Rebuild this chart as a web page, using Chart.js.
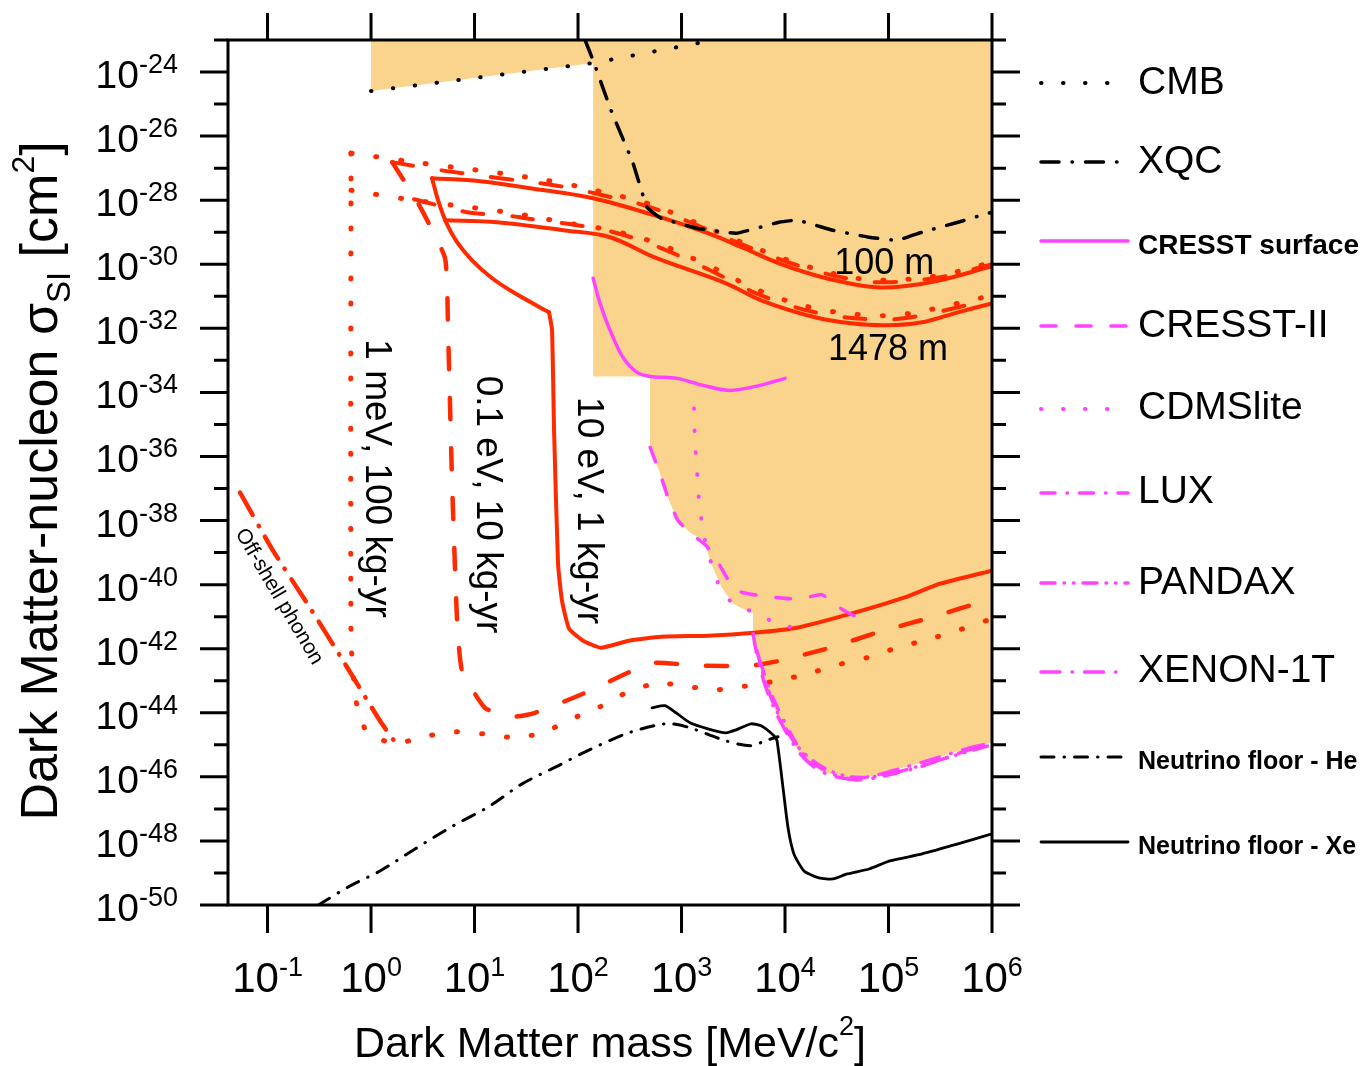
<!DOCTYPE html>
<html>
<head>
<meta charset="utf-8">
<script src="https://cdn.jsdelivr.net/npm/chart.js@4.4.0/dist/chart.umd.min.js"></script>
<style>html,body{margin:0;padding:0;background:#fff;}canvas{display:block;}</style>
</head>
<body>
<canvas id="c" width="1365" height="1066" style="width:1365px;height:1066px"></canvas>
<script>
// ---------- axis ranges & ticks ----------
const massRange = [0.0415, 1e6];          // MeV/c^2
const sigmaRange = [1e-50, 1e-23];        // cm^2
const xTicks = [1e-1, 1e0, 1e1, 1e2, 1e3, 1e4, 1e5, 1e6];
const xTickLabels = ['-1', '0', '1', '2', '3', '4', '5', '6'];
const yMajorTicks = [1e-24, 1e-26, 1e-28, 1e-30, 1e-32, 1e-34, 1e-36, 1e-38, 1e-40, 1e-42, 1e-44, 1e-46, 1e-48, 1e-50];
const yTickLabels = ['-24', '-26', '-28', '-30', '-32', '-34', '-36', '-38', '-40', '-42', '-44', '-46', '-48', '-50'];
const yMinorTicks = [1e-23, 1e-25, 1e-27, 1e-29, 1e-31, 1e-33, 1e-35, 1e-37, 1e-39, 1e-41, 1e-43, 1e-45, 1e-47, 1e-49];

// ---------- data: [mass MeV/c^2, cross section cm^2] ----------
const excludedRegion = [[1,1e-23],[1,2.55e-25],[140,1.91e-24],[140,3.16e-34],[497,3.16e-34],[497,1.91e-36],
  [620,2.94e-37],[757,4.22e-38],[925,1e-38],[1208,4.22e-39],[1649,2.37e-39],[1928,4.53e-40],[2460,8.05e-41],
  [3148,2.55e-41],[4690,1.33e-41],[4910,1.33e-41],[4910,2.94e-42],[5250,8.66e-43],[5730,2.55e-43],[6700,4.87e-44],
  [8950,5.62e-45],[1.4e4,5.24e-46],[2.18e4,1.54e-46],[3.97e4,8.66e-47],[7.08e4,1.07e-46],[1.38e5,1.91e-46],
  [2.94e5,3.93e-46],[6.12e5,8.05e-46],[1e6,1.15e-45],[1e6,1e-23]];

const cmb = [[1,2.55e-25],[140,1.91e-24],[2100,1e-23]];
const xqc = [[117,1e-23],[143,1.91e-24],[208,6.5e-26],[340,1.43e-27],[464,6.04e-29],[634,2.74e-29],[1413,1.33e-29],
  [3365,9.3e-30],[8750,2.05e-29],[1.31e4,2.37e-29],[2.91e4,1.15e-29],[6.49e4,6.98e-30],[1.21e5,5.62e-30],
  [2.11e5,1e-29],[4.69e5,2.05e-29],[1e6,4.22e-29]];

// 10 eV threshold, 1 kg-yr
const solid100m = [[3.88,4.87e-28],[11.3,3.93e-28],[34.4,2.37e-28],[140,1.15e-28],[542,3.4e-29],[1800,9.3e-30],
  [4020,3.16e-30],[8750,1.07e-30],[1.95e4,4.53e-31],[3.72e4,2.74e-31],[7.57e4,1.91e-31],[1.41e5,2.05e-31],
  [3.15e5,3.16e-31],[1e6,8.66e-31]];
const solid1478m = [[5.19,2.37e-29],[16.5,2.05e-29],[71.6,1.15e-29],[204,6.98e-30],[542,1.66e-30],[2690,2.55e-31],
  [5870,7.5e-32],[1.95e4,2.21e-32],[4.34e4,1.43e-32],[9.46e4,1.24e-32],[2.11e5,1.54e-32],[4.69e5,3.16e-32],[1e6,6.04e-32]];
const solidFloorUpper = [[3.88,4.87e-28],[4.44,1e-28],[5.31,2.05e-29],[6.78,4.87e-30],[9.46,1.33e-30],
  [14.8,3.65e-31],[24.6,1.24e-31],[52.5,3.16e-32]];
const solidFloor = [[52.5,3.16e-32],
  [56.1,8.66e-33],[58.7,6.5e-36],[64.1,4.53e-40],[70,3.16e-41],[81.9,4.22e-42],[112,1.78e-42],[167,1.07e-42],
  [311,1.78e-42],[634,2.37e-42],[1800,2.55e-42],[5010,3.16e-42],[1.31e4,4.53e-42],[4.34e4,1.24e-41],
  [1.41e5,3.93e-41],[3.15e5,1.07e-40],[1e6,2.74e-40]];

// 0.1 eV threshold, 10 kg-yr
const dashed100m = [[1.6,1.54e-27],[4.64,8.66e-28],[17.6,4.87e-28],[67,2.74e-28],[174,1.43e-28],[464,6.5e-29],
  [1208,2.05e-29],[4020,3.93e-30],[1.31e4,9.3e-31],[4.34e4,3.4e-31],[9.46e4,2.74e-31],[3.15e5,3.93e-31],[1e6,1e-30]];
const dashed1478m = [[2.6,1.07e-28],[8.47,4.22e-29],[18.8,3.4e-29],[43,2.37e-29],[97.7,1.66e-29],[204,1.07e-29],
  [542,3.93e-30],[1800,6.98e-31],[5870,1.07e-31],[1.95e4,3.16e-32],[6.49e4,1.91e-32],[1.41e5,2.05e-32],
  [4.69e5,4.53e-32],[1e6,8.66e-32]];
const dashedFloor = [[1.6,1.54e-27],[2.85,8.05e-29],[5.19,1.54e-30],[5.55,8.66e-33],[6.06,1.78e-37],[6.78,7.5e-42],
  [7.57,2.05e-43],[12.6,1.43e-44],[23,7.5e-45],[38.5,1e-44],[112,3.93e-44],[304,1.78e-43],[555,3.65e-43],
  [1510,2.94e-43],[4590,2.94e-43],[8950,4.22e-43],[2.72e4,1.07e-42],[8.28e4,3.4e-42],[2.52e5,9.3e-42],[1e6,3.65e-41]];

// 1 meV threshold, 100 kg-yr
const dotted100m = [[0.641,2.94e-27],[1.63,1.91e-27],[4.34,1.24e-27],[17.6,6.98e-28],[70,3.4e-28],[174,1.78e-28],
  [464,8.05e-29],[1208,2.37e-29],[4020,4.53e-30],[1.31e4,1.07e-30],[4.34e4,3.93e-31],[9.46e4,3.16e-31],
  [3.15e5,4.53e-31],[1e6,1.15e-30]];
const dotted1478m = [[0.641,2.05e-28],[1.63,1.24e-28],[4.34,8.05e-29],[10.6,5.62e-29],[27.5,3.65e-29],[71.6,2.05e-29],
  [204,1.15e-29],[542,4.87e-30],[1800,9.3e-31],[5870,1.43e-31],[1.95e4,4.22e-32],[6.49e4,2.55e-32],[1.41e5,2.74e-32],
  [4.69e5,6.04e-32],[1e6,1.07e-31]];
const dottedFloor = [[0.641,2.94e-27],[0.641,1.78e-42],[0.716,2.37e-44],[0.915,2.37e-45],[1.71,1.07e-45],[3.18,1.78e-45],
  [6.2,2.55e-45],[12.1,2.21e-45],[24.6,1.66e-45],[45.9,2.37e-45],[87.5,6.5e-45],[163,1.54e-44],[304,4.53e-44],
  [593,8.66e-44],[1156,6.5e-44],[2254,5.24e-44],[4390,6.98e-44],[8550,1e-43],[1.67e4,1.66e-43],[3.25e4,3.16e-43],
  [6.2e4,5.24e-43],[1.21e5,1.07e-42],[2.36e5,1.91e-42],[4.59e5,3.65e-42],[1e6,8.66e-42]];

const offShellPhonon = [[0.0542,7.5e-38],[0.113,1.15e-39],[0.257,1.91e-41],[0.537,4.22e-43],[1.22,5.62e-45],[1.78,1e-45]];

const cresstSurface = [[140,3.65e-31],[163,6.04e-32],[204,8.66e-33],[272,1.24e-33],[372,4.22e-34],[497,3.16e-34],
  [906,2.74e-34],[1614,1.66e-34],[2943,1.15e-34],[5730,1.66e-34],[1e4,2.74e-34]];
const cresstII = [[497,1.91e-36],[620,2.94e-37],[757,4.22e-38],[925,1e-38],[1208,4.22e-39],[1726,1.66e-39],
  [2203,5.62e-40],[2943,1.15e-40],[3673,6.04e-41],[5730,4.53e-41],[1.12e4,3.65e-41],[1.6e4,3.93e-41],
  [2.28e4,4.87e-41],[3.11e4,2.21e-41],[4.65e4,1.07e-41],[6.93e4,6.98e-42]];
const cdmslite = [[1321,3.16e-35],[1350,3.16e-36],[1412,3.65e-37],[1476,4.22e-38],[1578,8.05e-39],[1726,1.66e-39],
  [1972,3.93e-40],[2355,8.05e-41],[3148,2.55e-41],[5130,1.33e-41],[8000,6.5e-42],[1.31e4,4.22e-42]];
const lux = [[5730,4.22e-43],[7160,4.87e-44],[1e4,4.87e-45],[1.56e4,4.53e-46],[2.72e4,1.33e-46],[4.75e4,8.05e-47],
  [8.28e4,1e-46],[2.01e5,2.05e-46],[4.91e5,5.62e-46],[1e6,1.24e-45]];
const pandax = [[5360,8.66e-43],[6410,1e-43],[8550,9.3e-45],[1.31e4,9.3e-46],[2.28e4,2.05e-46],[4.25e4,1e-46],
  [8.28e4,1.07e-46],[2.01e5,2.21e-46],[4.91e5,5.24e-46],[1e6,1e-45]];
const xenon1t = [[4910,2.94e-42],[5250,8.66e-43],[5730,2.55e-43],[6700,4.87e-44],[8950,5.62e-45],[1.4e4,5.24e-46],
  [2.18e4,1.54e-46],[3.97e4,8.66e-47],[7.08e4,1.07e-46],[1.38e5,1.91e-46],[2.94e5,3.93e-46],[6.12e5,8.05e-46],[1e6,1.15e-45]];

const nuFloorHe = [[0.31,1e-50],[0.627,3.93e-50],[1.22,1.15e-49],[2.66,5.62e-49],[6.2,2.94e-48],[14.1,1.24e-47],
  [28.8,6.04e-47],[64.1,2.21e-46],[112,5.62e-46],[291,2.21e-45],[593,4.22e-45],[809,4.53e-45],[1208,3.4e-45],
  [2690,1.33e-45],[4690,9.3e-46],[6410,1.33e-45],[8550,1.78e-45]];
const nuFloorXe = [[519,1.43e-44],[693,1.66e-44],[885,1e-44],[1208,4.87e-45],[1800,3.16e-45],[2690,2.37e-45],
  [3365,2.94e-45],[4690,4.53e-45],[5870,3.93e-45],[7830,1.91e-45],[8370,1.33e-45],[9570,4.53e-47],[1.07e4,2.55e-48],
  [1.22e4,3.93e-49],[1.53e4,1.15e-49],[2.13e4,6.98e-50],[2.91e4,6.5e-50],[3.97e4,9.3e-50],[6.49e4,1.33e-49],
  [1.03e5,2.37e-49],[2.11e5,3.93e-49],[4.69e5,8.05e-49],[1e6,1.66e-48]];

// text annotations placed in data coordinates
const annotations = [
  {text: '100 m', x: 9.1e4, y: 1.0e-30, size: 36, rot: 0},
  {text: '1478 m', x: 9.9e4, y: 2.05e-33, size: 36, rot: 0},
  {text: '1 meV, 100 kg-yr', x: 1.12, y: 2.05e-37, size: 37, rot: 90},
  {text: '0.1 eV, 10 kg-yr', x: 13.2, y: 3.16e-38, size: 37, rot: 90},
  {text: '10 eV, 1 kg-yr', x: 125, y: 2.05e-38, size: 37, rot: 90},
  {text: 'Off-shell phonon', x: 0.129, y: 4.22e-41, size: 21, rot: 59.5}
];

// ---------- styles ----------
const RED = '#ff2a00', MAG = '#ff42ff', BLK = '#000000', FILL = 'rgb(250,211,140)';
const FONT = '"Liberation Sans", Arial, Helvetica, sans-serif';
const pts = a => a.map(([x, y]) => ({x, y}));
function line(label, data, color, width, dash, tension, order) {
  return {label, data: pts(data), borderColor: color, borderWidth: width, borderDash: dash,
    borderCapStyle: 'round', borderJoinStyle: 'round', fill: false, pointRadius: 0, tension, clip: 0, order};
}
const DOT_R = [1, 24], DASH_R = [21, 29];
const datasets = [
  line('CMB', cmb, BLK, 4, [0.5, 21.5], 0, 1),
  line('XQC', xqc, BLK, 3.5, [18, 13, 0.5, 13], 0.1, 1),
  line('Neutrino floor - He', nuFloorHe, BLK, 3, [13, 10, 0.5, 10], 0.3, 1),
  line('Neutrino floor - Xe', nuFloorXe, BLK, 2.8, [], 0.2, 1),
  line('CRESST surface', cresstSurface, MAG, 3.5, [], 0.3, 2),
  line('CRESST-II', cresstII, MAG, 3.5, [15, 20], 0.15, 2),
  line('CDMSlite', cdmslite, MAG, 4, [0.5, 21.5], 0.2, 2),
  line('LUX', lux, MAG, 3.5, [14, 12, 0.5, 12], 0.3, 2),
  line('PANDAX', pandax, MAG, 3.5, [14, 9, 0.5, 9, 0.5, 9], 0.3, 2),
  line('XENON-1T', xenon1t, MAG, 3.5, [19, 12, 0.5, 12], 0.3, 2),
  line('10 eV, 1 kg-yr, 100 m', solid100m, RED, 4, [], 0.35, 3),
  line('10 eV, 1 kg-yr, 1478 m', solid1478m, RED, 4, [], 0.35, 3),
  line('10 eV, 1 kg-yr, edge', solidFloorUpper, RED, 4, [], 0.3, 3),
  line('10 eV, 1 kg-yr', solidFloor, RED, 4, [], 0.15, 3),
  line('0.1 eV, 10 kg-yr, 100 m', dashed100m, RED, 4, DASH_R, 0.35, 3),
  line('0.1 eV, 10 kg-yr, 1478 m', dashed1478m, RED, 4, DASH_R, 0.35, 3),
  line('0.1 eV, 10 kg-yr', dashedFloor, RED, 4.5, DASH_R, 0.15, 3),
  line('1 meV, 100 kg-yr, 100 m', dotted100m, RED, 5, DOT_R, 0.35, 3),
  line('1 meV, 100 kg-yr, 1478 m', dotted1478m, RED, 5, DOT_R, 0.35, 3),
  line('1 meV, 100 kg-yr', dottedFloor, RED, 5, DOT_R, 0.15, 3),
  line('Off-shell phonon', offShellPhonon, RED, 4.5, [26, 12, 0.5, 12], 0.2, 3),
  {label: 'excluded', data: pts(excludedRegion), borderColor: 'rgba(0,0,0,0)', borderWidth: 0,
   backgroundColor: FILL, fill: 'shape', pointRadius: 0, tension: 0, order: 10}
];

// legend rows (layout)
const legendRows = [
  {label: 'CMB', y: 83, ty: 83, size: 39, bold: false},
  {label: 'XQC', y: 162, ty: 162, size: 39, bold: false},
  {label: 'CRESST surface', y: 241, ty: 246, size: 28, bold: true},
  {label: 'CRESST-II', y: 326, ty: 326, size: 39, bold: false},
  {label: 'CDMSlite', y: 409, ty: 408, size: 39, bold: false},
  {label: 'LUX', y: 493, ty: 492, size: 39, bold: false},
  {label: 'PANDAX', y: 583, ty: 583, size: 39, bold: false},
  {label: 'XENON-1T', y: 672, ty: 671, size: 39, bold: false},
  {label: 'Neutrino floor - He', y: 757, ty: 762, size: 25, bold: true},
  {label: 'Neutrino floor - Xe', y: 842, ty: 847, size: 25, bold: true}
];

function drawParts(ctx, parts, x, y, align) {
  let total = 0;
  parts.forEach(p => { ctx.font = (p.bold ? 'bold ' : '') + p.size + 'px ' + FONT; p.w = ctx.measureText(p.t).width; total += p.w; });
  let cx = align === 'right' ? x - total : (align === 'center' ? x - total / 2 : x);
  ctx.textAlign = 'left'; ctx.textBaseline = 'alphabetic';
  parts.forEach(p => { ctx.font = (p.bold ? 'bold ' : '') + p.size + 'px ' + FONT; ctx.fillText(p.t, cx, y + (p.dy || 0)); cx += p.w; });
}

const decor = {
  id: 'decor',
  afterDraw(chart) {
    const {ctx, chartArea: ca, scales: {x, y}} = chart;
    ctx.save();
    ctx.strokeStyle = '#000'; ctx.fillStyle = '#000'; ctx.setLineDash([]);
    ctx.lineWidth = 3; ctx.lineCap = 'butt';
    ctx.beginPath();
    yMajorTicks.forEach(v => { const p = y.getPixelForValue(v);
      ctx.moveTo(ca.left - 28, p); ctx.lineTo(ca.left, p); ctx.moveTo(ca.right, p); ctx.lineTo(ca.right + 28, p); });
    yMinorTicks.forEach(v => { const p = y.getPixelForValue(v);
      ctx.moveTo(ca.left - 14, p); ctx.lineTo(ca.left, p); ctx.moveTo(ca.right, p); ctx.lineTo(ca.right + 14, p); });
    xTicks.forEach(v => { const p = x.getPixelForValue(v);
      ctx.moveTo(p, ca.bottom); ctx.lineTo(p, ca.bottom + 28); ctx.moveTo(p, ca.top); ctx.lineTo(p, ca.top - 27); });
    ctx.stroke();
    ctx.strokeRect(ca.left, ca.top, ca.right - ca.left, ca.bottom - ca.top);

    // tick labels
    yMajorTicks.forEach((v, i) => { const p = y.getPixelForValue(v);
      drawParts(ctx, [{t: '10', size: 39}, {t: yTickLabels[i], size: 27, dy: -15}], ca.left - 50, p + 16, 'right'); });
    xTicks.forEach((v, i) => { const p = x.getPixelForValue(v);
      drawParts(ctx, [{t: '10', size: 42}, {t: xTickLabels[i], size: 27, dy: -16}], p, ca.bottom + 87, 'center'); });

    // axis titles
    drawParts(ctx, [{t: 'Dark Matter mass [MeV/c', size: 43}, {t: '2', size: 27, dy: -22}, {t: ']', size: 43}], 610, 1057, 'center');
    ctx.save(); ctx.translate(57, 481); ctx.rotate(-Math.PI / 2);
    drawParts(ctx, [{t: 'Dark Matter-nucleon ', size: 52}, {t: 'σ', size: 52}, {t: 'SI', size: 33, dy: 13},
      {t: ' [cm', size: 52}, {t: '2', size: 32, dy: -23}, {t: ']', size: 52}], 0, 0, 'center');
    ctx.restore();

    // annotations
    annotations.forEach(a => {
      ctx.save();
      ctx.translate(x.getPixelForValue(a.x), y.getPixelForValue(a.y));
      ctx.rotate(a.rot * Math.PI / 180);
      ctx.font = a.size + 'px ' + FONT; ctx.textAlign = 'center'; ctx.textBaseline = 'middle';
      ctx.fillText(a.text, 0, 0);
      ctx.restore();
    });

    // legend
    legendRows.forEach(r => {
      const ds = chart.data.datasets.find(d => d.label === r.label);
      ctx.save();
      ctx.strokeStyle = ds.borderColor; ctx.lineWidth = ds.borderWidth; ctx.lineCap = ds.borderCapStyle;
      ctx.setLineDash(ds.borderDash);
      ctx.beginPath(); ctx.moveTo(1041, r.y); ctx.lineTo(1128, r.y); ctx.stroke();
      ctx.restore();
      ctx.font = (r.bold ? 'bold ' : '') + r.size + 'px ' + FONT;
      ctx.textAlign = 'left'; ctx.textBaseline = 'middle';
      ctx.fillText(r.label, 1138, r.ty);
    });
    ctx.restore();
  }
};

new Chart(document.getElementById('c'), {
  type: 'line',
  data: {datasets},
  options: {
    responsive: false, animation: false, devicePixelRatio: 1,
    layout: {padding: {left: 228, right: 373, top: 40, bottom: 161}},
    plugins: {legend: {display: false}, tooltip: {enabled: false}},
    elements: {point: {radius: 0}},
    scales: {
      x: {type: 'logarithmic', min: massRange[0], max: massRange[1], display: false},
      y: {type: 'logarithmic', min: sigmaRange[0], max: sigmaRange[1], display: false}
    }
  },
  plugins: [decor]
});
</script>
</body>
</html>
